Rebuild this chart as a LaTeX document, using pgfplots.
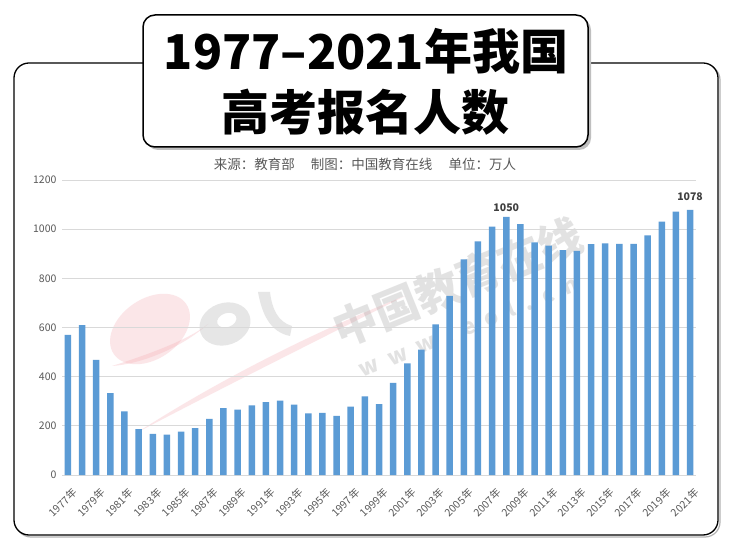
\documentclass[border=0pt]{standalone}
\usepackage{fontspec}
\setmainfont{Noto Sans CJK SC}
\usepackage{pgfplots}
\pgfplotsset{compat=1.18}
\definecolor{barblue}{HTML}{5B9BD5}
\definecolor{ticktext}{HTML}{595959}
\definecolor{gridgray}{HTML}{D9D9D9}
\definecolor{wmpink}{HTML}{F4A6AE}

\begin{document}
\begin{tikzpicture}[x=1pt,y=1pt]
\path (0,0) rectangle (730,554);
% outer frame
\draw[gray!60, line width=1.2pt, rounded corners=15pt] (16,17) rectangle (720,489);
\draw[black, line width=1.3pt, rounded corners=15pt, fill=white] (14,19) rectangle (718,491);

% watermark
\begin{scope}[opacity=0.28]
  \fill[wmpink, rotate around={35:(150,225)}] (150,225) ellipse (44 and 30);
  \fill[wmpink] (112,188) .. controls (150,200) and (190,215) .. (208,230)
                .. controls (180,205) and (140,190) .. (112,188) -- cycle;
  \fill[wmpink] (138,122) .. controls (220,175) and (320,225) .. (405,258)
                .. controls (320,215) and (220,165) .. (138,122) -- cycle;
  \fill[gray!70, even odd rule, rotate around={20:(225,230)}] (225,230) ellipse (26 and 21) (228,233) ellipse (10 and 7);
  \fill[gray!70] (258,262) .. controls (262,240) and (270,222) .. (290,218)
                 -- (292,228) .. controls (278,232) and (272,245) .. (270,262) -- cycle;
  \node[gray!80, font=\fontsize{44}{44}\bfseries, rotate=22] at (458,272) {中国教育在线};
  \node[gray!80, font=\fontsize{22}{22}\bfseries, rotate=22] at (468,228) {w\,\,\,w\,\,\,w\,\,\,.\,\,\,e\,\,\,o\,\,\,l\,\,\,.\,\,\,c\,\,\,n};
\end{scope}

\begin{axis}[
    at={(62pt,79pt)}, anchor=south west,
    scale only axis, width=634pt, height=295pt,
    xmin=1976.58, xmax=2021.42, ymin=0, ymax=1200,
    clip=false,
    ytick={0,200,...,1200},
    xtick={1977,1979,...,2021},
    xticklabel={\pgfmathprintnumber[1000 sep=]{\tick}年},
    /pgf/number format/assume math mode=true,
    /pgf/number format/1000 sep={},
    xticklabel style={rotate=45, anchor=north east, font=\fontsize{10.5}{11}\selectfont, text=ticktext, inner sep=1pt, xshift=-5pt, yshift=-10pt},
    yticklabel style={font=\fontsize{10.5}{11}\selectfont, text=ticktext, xshift=-2pt},
    axis line style={draw=none},
    major tick length=0pt,
    ymajorgrids, grid style={gridgray, line width=0.8pt},
]
\addplot[ybar, bar width=6.5pt, fill=barblue, draw=none] coordinates {
(1977,570)(1978,610)(1979,468)(1980,333)(1981,259)(1982,187)(1983,167)(1984,164)
(1985,176)(1986,191)(1987,228)(1988,272)(1989,266)(1990,283)(1991,296)(1992,303)
(1993,286)(1994,251)(1995,253)(1996,241)(1997,278)(1998,320)(1999,288)(2000,375)
(2001,454)(2002,510)(2003,613)(2004,729)(2005,877)(2006,950)(2007,1010)(2008,1050)
(2009,1020)(2010,946)(2011,933)(2012,915)(2013,912)(2014,939)(2015,942)(2016,940)
(2017,940)(2018,975)(2019,1031)(2020,1071)(2021,1078)
};
\node[above, font=\fontsize{10.5}{11}\bfseries, text=black!75, yshift=2pt] at (axis cs:2008,1050) {1050};
\node[above, font=\fontsize{10.5}{11}\bfseries, text=black!75, yshift=6pt] at (axis cs:2021,1078) {1078};
\end{axis}

% subtitle
\node[text=ticktext, font=\fontsize{13.5}{14}\selectfont] at (365,390) {来源：教育部\hspace{1.2em}制图：中国教育在线\hspace{1.2em}单位：万人};

% title box
\fill[gray!50, rounded corners=12pt] (146,404) rectangle (591,536);
\draw[black, line width=1.5pt, fill=white, rounded corners=12pt] (143,407) rectangle (588,539);
\node[font=\fontsize{48}{48}\bfseries] at (366,503) {1977–2021年我国};
\node[font=\fontsize{48}{48}\bfseries] at (365,442) {高考报名人数};
\end{tikzpicture}
\end{document}
